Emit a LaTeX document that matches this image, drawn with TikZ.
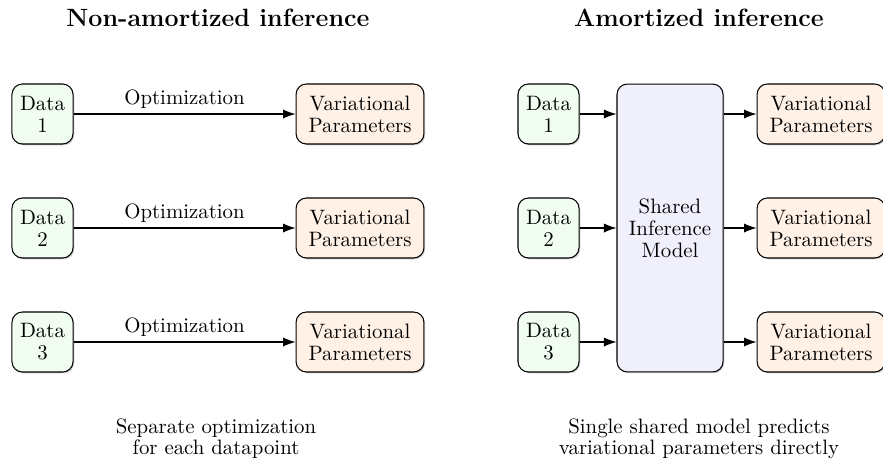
\documentclass[tikz,border=0pt]{standalone}
\usetikzlibrary{arrows.meta,shadows}
\definecolor{datafill}{HTML}{F0FDF0}
\definecolor{varfill}{HTML}{FFF1E6}
\definecolor{modelfill}{HTML}{F0F0FD}
\tikzset{
  box/.style={draw=black, rounded corners=5pt, line width=0.5pt, align=center, inner sep=1pt,
    font=\fontsize{10}{10.5}\selectfont,
    drop shadow={shadow xshift=0.6pt, shadow yshift=-0.6pt, opacity=0.35, fill=black!60}},
  databox/.style={box, fill=datafill, minimum width=29.3pt, minimum height=28.8pt},
  varbox/.style={box, fill=varfill, minimum width=61.4pt, minimum height=28.8pt},
  modelbox/.style={box, fill=modelfill, minimum width=50.9pt, minimum height=138.2pt},
  conn/.style={-{Latex[length=6pt,width=4.4pt]}, line width=0.5pt},
  title/.style={font=\large\bfseries, anchor=base, inner sep=0pt},
  oplabel/.style={midway, anchor=base, yshift=4.8pt, inner sep=0pt},
  caption/.style={align=center, anchor=base, inner sep=0pt, font=\fontsize{10}{10}\selectfont}
}
\begin{document}
\begin{tikzpicture}[x=0.48pt,y=-0.48pt]
\useasboundingbox (0,0) rectangle (883,458);
% titles
\node[title] (t1) at (218,26) {Non-amortized inference};
\node[title] (t2) at (699,26) {Amortized inference};
% left column
\foreach \i/\y in {1/114,2/228,3/342}{
  \node[databox] (ld\i) at (42.5,\y) {Data\\\i};
  \node[varbox] (lv\i) at (360,\y) {Variational\\Parameters};
  \draw[conn] (ld\i) -- node[oplabel] (lo\i) {Optimization} (lv\i);
}
% right column
\node[modelbox] (sm) at (670,228) {Shared\\Inference\\Model};
\foreach \i/\y in {1/114,2/228,3/342}{
  \node[databox] (rd\i) at (548.5,\y) {Data\\\i};
  \node[varbox] (rv\i) at (821,\y) {Variational\\Parameters};
  \draw[conn] (rd\i) -- (rd\i -| sm.west);
  \draw[conn] (rv\i -| sm.east) -- (rv\i);
}
% captions
\node[caption] (c1) at (216,454) {Separate optimization\\for each datapoint};
\node[caption] (c2) at (699,454) {Single shared model predicts\\variational parameters directly};
\end{tikzpicture}
\end{document}
